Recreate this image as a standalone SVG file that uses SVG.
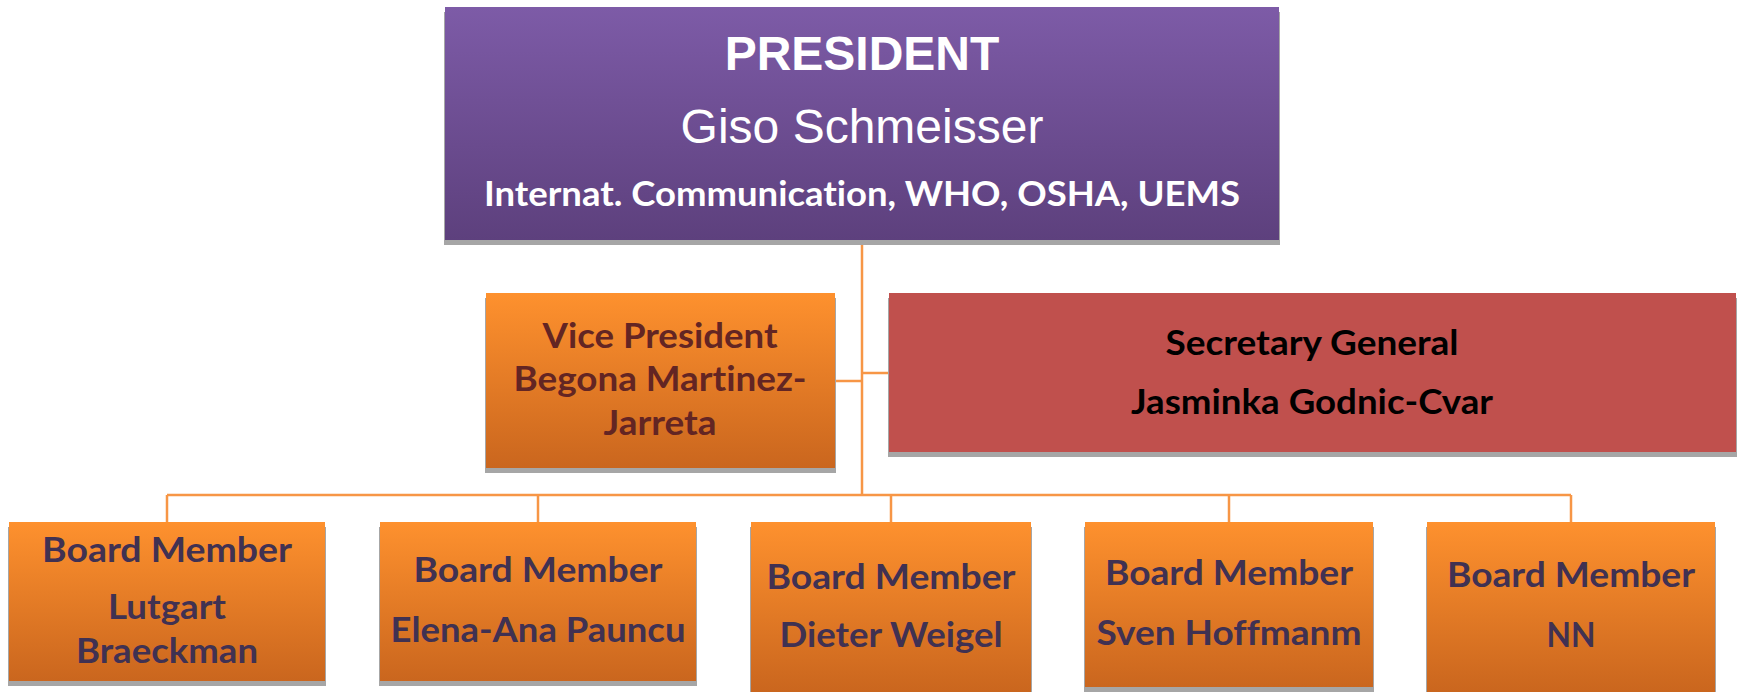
<svg xmlns="http://www.w3.org/2000/svg" width="1740" height="692" viewBox="0 0 1740 692">
<defs>
<linearGradient id="gPurple" x1="0" y1="0" x2="0" y2="1">
<stop offset="0" stop-color="#7D5BA7"/>
<stop offset="1" stop-color="#5D407D"/>
</linearGradient>
<linearGradient id="gOrange" x1="0" y1="0" x2="0" y2="1">
<stop offset="0" stop-color="#FE912E"/>
<stop offset="1" stop-color="#CA661E"/>
</linearGradient>
<style>
.shadow{fill:#A6A6A6}
.purple{fill:url(#gPurple)}
.orange{fill:url(#gOrange)}
.red{fill:#C0504D}
.conn{stroke:#F79646;stroke-width:2.5;fill:none}
.cal{font-family:Lato,"Open Sans","Liberation Sans",sans-serif;font-weight:bold;text-anchor:middle;font-variant-ligatures:none}
.board{fill:#403152;font-size:34px}
.vp{fill:#632523;font-size:34px}
.sec{fill:#000;font-size:34px}
.pres{fill:#fff}
</style>
</defs>
<g id="connectors">
<line class="conn" x1="862" y1="240" x2="862" y2="495"/>
<line class="conn" x1="835" y1="381" x2="862" y2="381"/>
<line class="conn" x1="862" y1="373" x2="889" y2="373"/>
<line class="conn" x1="167" y1="495" x2="1571" y2="495"/>
<line class="conn" x1="167" y1="495" x2="167" y2="522"/>
<line class="conn" x1="538" y1="495" x2="538" y2="522"/>
<line class="conn" x1="891" y1="495" x2="891" y2="522"/>
<line class="conn" x1="1229" y1="495" x2="1229" y2="522"/>
<line class="conn" x1="1571" y1="495" x2="1571" y2="522"/>
</g>
<g id="president">
<rect class="shadow" x="444" y="12" width="836" height="233"/>
<rect class="purple" x="445" y="7" width="834" height="233"/>
<text class="pres" x="862" y="70" font-family="'Liberation Sans',Arial,sans-serif" font-weight="bold" font-size="48" text-anchor="middle">PRESIDENT</text>
<text class="pres" x="862" y="143" font-family="'Liberation Sans',Arial,sans-serif" font-size="48" text-anchor="middle">Giso Schmeisser</text>
<text class="pres cal" x="862" y="206" font-size="35" textLength="756" lengthAdjust="spacingAndGlyphs">Internat. Communication, WHO, OSHA, UEMS</text>
</g>
<g id="vice-president">
<rect class="shadow" x="485" y="298" width="351" height="175"/>
<rect class="orange" x="486" y="293" width="349" height="175"/>
<text class="cal vp" x="660" y="348" textLength="235" lengthAdjust="spacingAndGlyphs">Vice President</text>
<text class="cal vp" x="660" y="391" textLength="293" lengthAdjust="spacingAndGlyphs">Begona Martinez-</text>
<text class="cal vp" x="660" y="435" textLength="113" lengthAdjust="spacingAndGlyphs">Jarreta</text>
</g>
<g id="secretary-general">
<rect class="shadow" x="888" y="298" width="849" height="159"/>
<rect class="red" x="889" y="293" width="847" height="159"/>
<text class="cal sec" x="1312" y="355" textLength="293" lengthAdjust="spacingAndGlyphs">Secretary General</text>
<text class="cal sec" x="1312" y="414" textLength="362" lengthAdjust="spacingAndGlyphs">Jasminka Godnic-Cvar</text>
</g>
<g id="board-1">
<rect class="shadow" x="8" y="527" width="318" height="159"/>
<rect class="orange" x="9" y="522" width="316" height="159"/>
<text class="cal board" x="167" y="562" textLength="250" lengthAdjust="spacingAndGlyphs">Board Member</text>
<text class="cal board" x="167" y="619" textLength="118" lengthAdjust="spacingAndGlyphs">Lutgart</text>
<text class="cal board" x="167" y="663" textLength="182" lengthAdjust="spacingAndGlyphs">Braeckman</text>
</g>
<g id="board-2">
<rect class="shadow" x="379" y="527" width="318" height="159"/>
<rect class="orange" x="380" y="522" width="316" height="159"/>
<text class="cal board" x="538" y="582" textLength="249" lengthAdjust="spacingAndGlyphs">Board Member</text>
<text class="cal board" x="538" y="642" textLength="295" lengthAdjust="spacingAndGlyphs">Elena-Ana Pauncu</text>
</g>
<g id="board-3">
<rect class="shadow" x="750" y="527" width="282" height="170"/>
<rect class="orange" x="751" y="522" width="280" height="170"/>
<text class="cal board" x="891" y="589" textLength="249" lengthAdjust="spacingAndGlyphs">Board Member</text>
<text class="cal board" x="891" y="647" textLength="223" lengthAdjust="spacingAndGlyphs">Dieter Weigel</text>
</g>
<g id="board-4">
<rect class="shadow" x="1084" y="527" width="290" height="165"/>
<rect class="orange" x="1085" y="522" width="288" height="165"/>
<text class="cal board" x="1229" y="585" textLength="248" lengthAdjust="spacingAndGlyphs">Board Member</text>
<text class="cal board" x="1229" y="645" textLength="265" lengthAdjust="spacingAndGlyphs">Sven Hoffmanm</text>
</g>
<g id="board-5">
<rect class="shadow" x="1426" y="527" width="290" height="170"/>
<rect class="orange" x="1427" y="522" width="288" height="170"/>
<text class="cal board" x="1571" y="587" textLength="248" lengthAdjust="spacingAndGlyphs">Board Member</text>
<text class="cal board" x="1571" y="647" textLength="49" lengthAdjust="spacingAndGlyphs">NN</text>
</g>
</svg>
